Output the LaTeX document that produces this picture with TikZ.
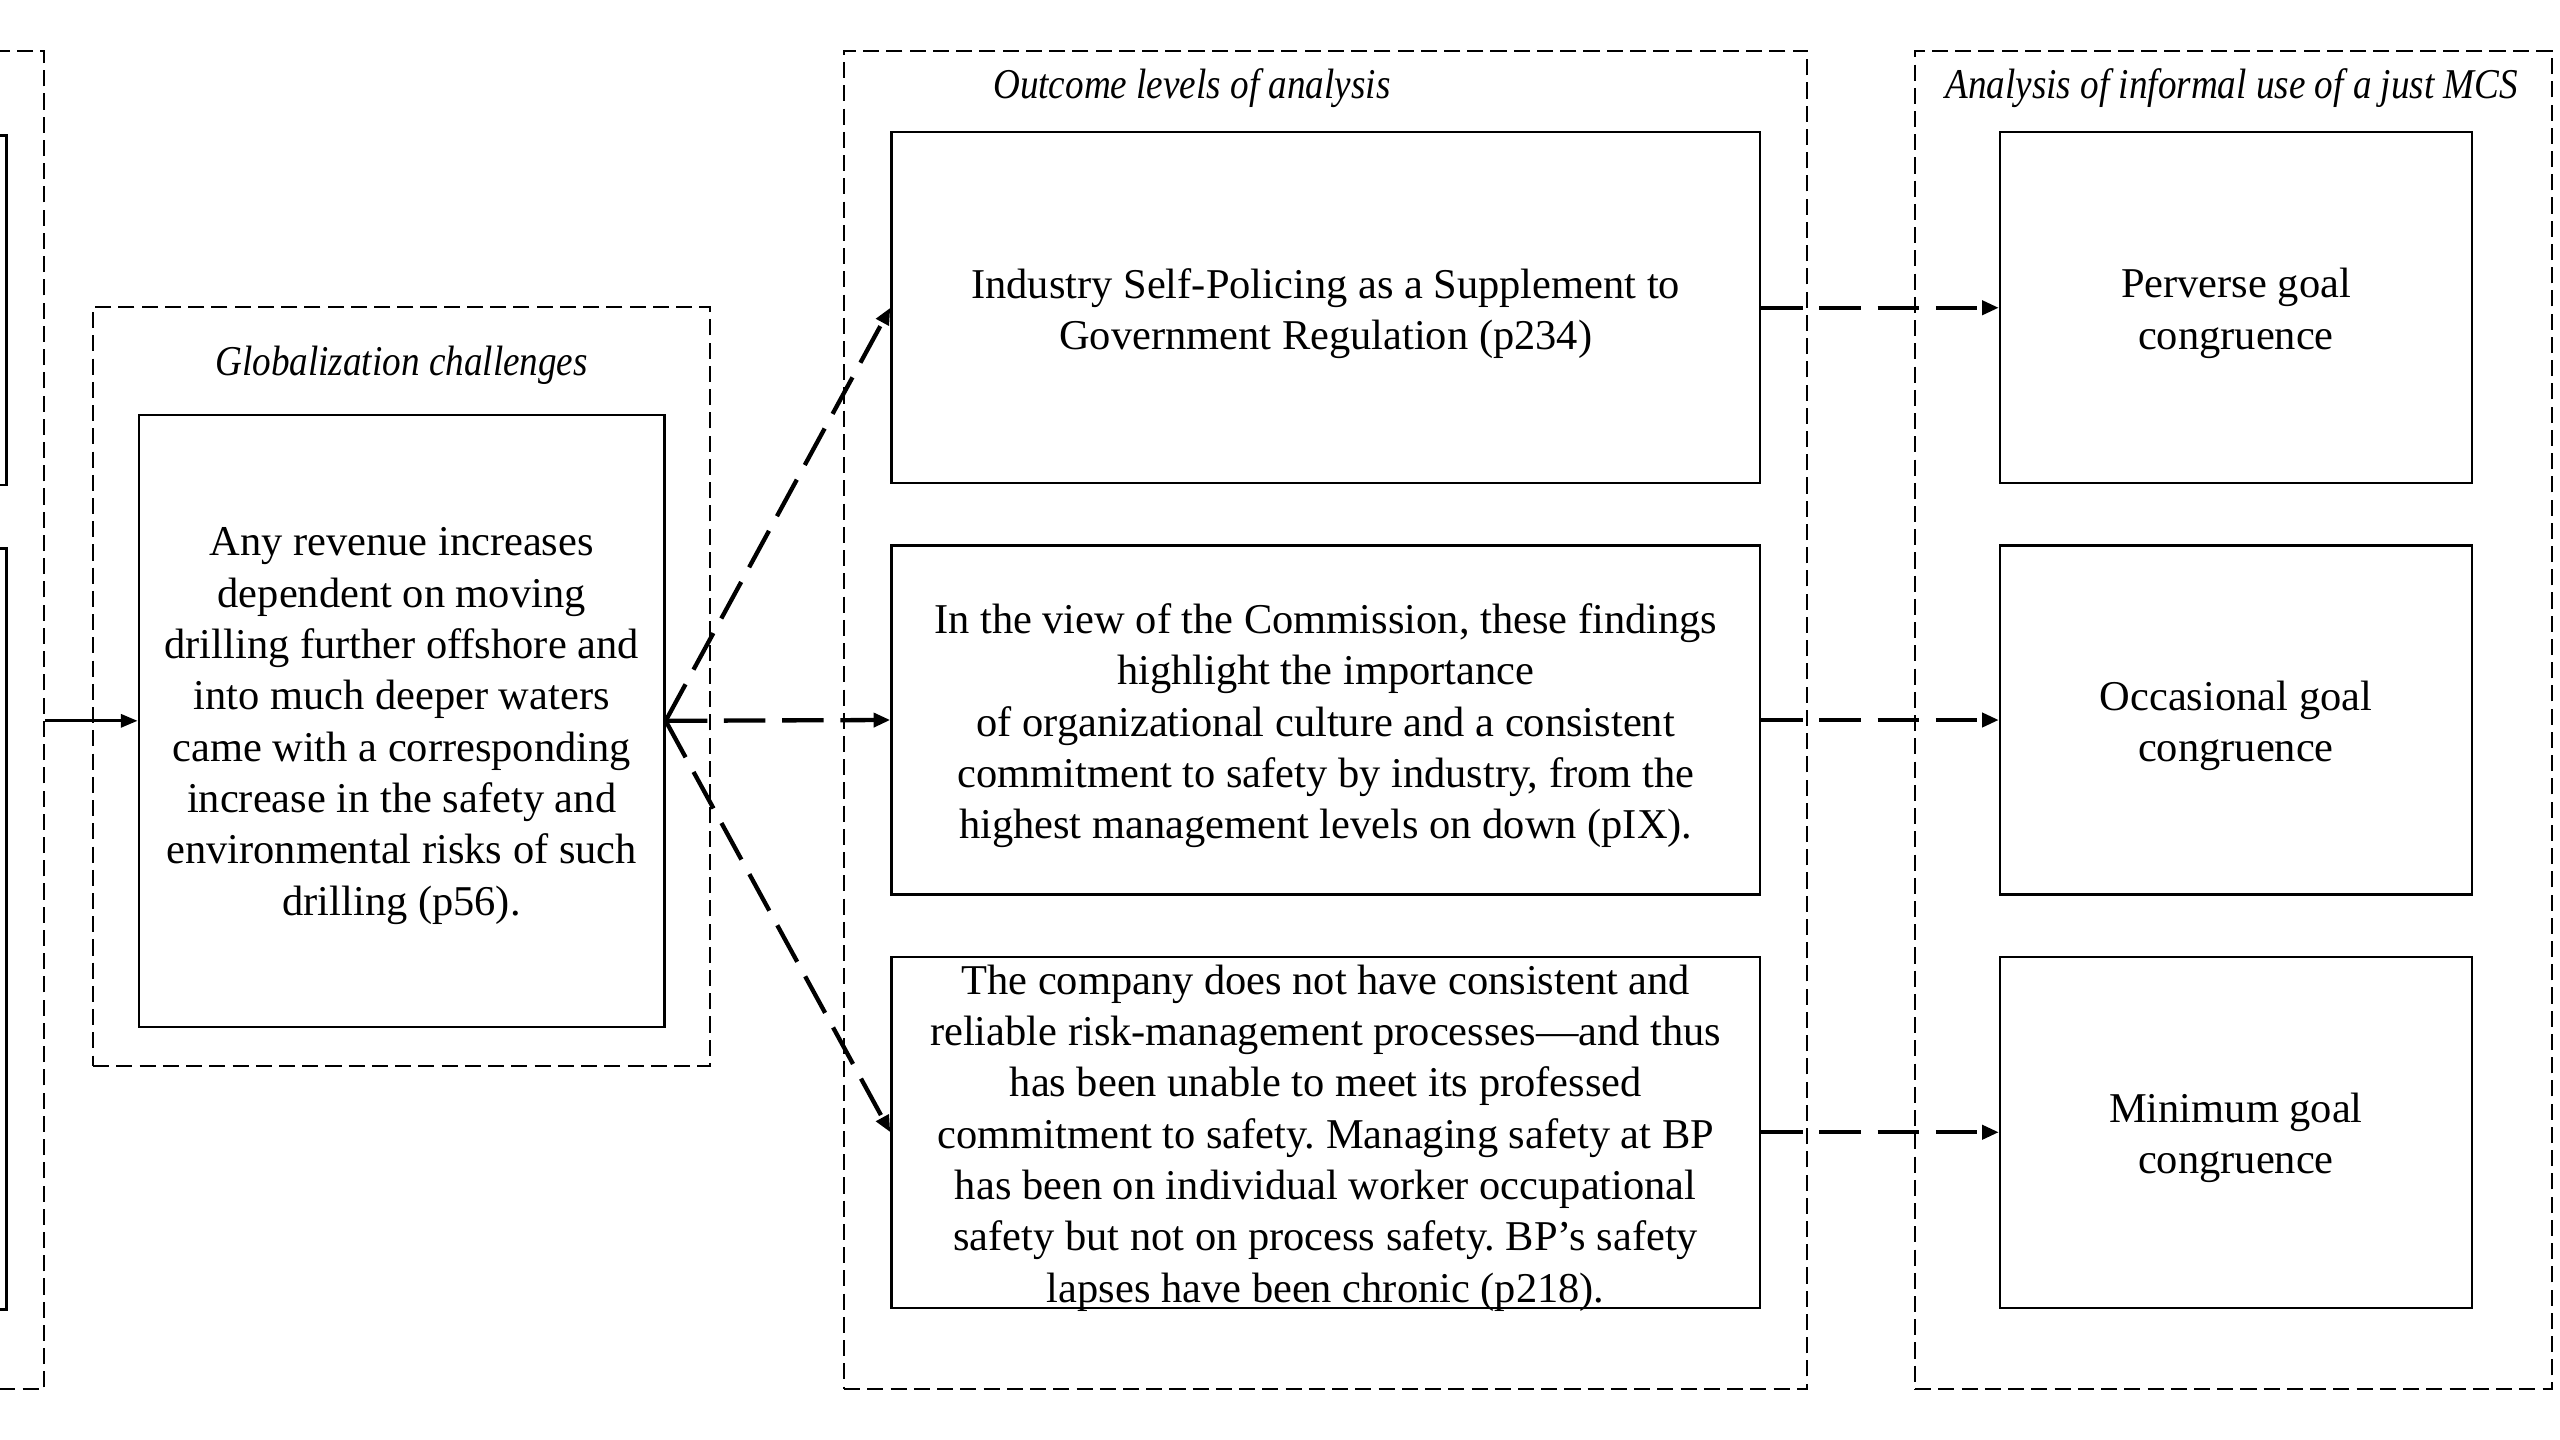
\documentclass[tikz,border=0pt]{standalone}
\usepackage{fontspec}
\setmainfont{Liberation Serif}
\newfontfamily\labfam[FakeStretch=0.875]{Liberation Serif}
\usetikzlibrary{arrows.meta}
\frenchspacing
\newcommand{\bodyfont}{\fontsize{14.8}{17.9}\selectfont}
\begin{document}
\begin{tikzpicture}[x=0.02cm,y=-0.02cm,
  box/.style={draw, line width=0.85pt, inner sep=0pt},
  txt/.style={inner sep=0pt, align=center, font=\bodyfont},
  grp/.style={draw, line width=0.85pt, dash pattern=on 5.6pt off 2.5pt, inner sep=0pt},
  lab/.style={inner sep=0pt, font=\labfam\itshape\fontsize{14.8}{17}\selectfont},
  conn/.style={line width=1.5pt, dash pattern=on 14.5pt off 5.8pt, -{Triangle[length=5.8pt,width=4.8pt]}},
  solidconn/.style={line width=1.1pt, -{Triangle[length=5.8pt,width=4.5pt]}}]
\useasboundingbox (0,0) rectangle (1568,882);
\clip (0,0) rectangle (1568,882);
% left partial group
\node[grp, minimum width=2.54cm, minimum height=16.4cm] (leftgrp) at (-36.5,441) {};
\node[box, minimum width=2.08cm, minimum height=4.28cm] (lefta) at (-48,190) {};
\node[box, minimum width=2.08cm, minimum height=9.32cm] (leftb) at (-48,569) {};
% globalization group
\node[grp, minimum width=7.56cm, minimum height=9.3cm] (globgrp) at (246,420.5) {};
\node[lab] (globlab) at (246,224) {Globalization challenges};
\node[box, minimum width=6.44cm, minimum height=7.5cm] (glob) at (246,441.5) {};
\node[txt] (globt) at ([yshift=-0.065cm]glob.center) {Any revenue increases\\ dependent on moving\\ drilling further offshore and\\ into much deeper waters\\ came with a corresponding\\ increase in the safety and\\ environmental risks of such\\ drilling (p56).};
% outcome group
\node[grp, minimum width=11.8cm, minimum height=16.4cm] (midgrp) at (812,441) {};
\node[lab] (midlab) at (730,54) {Outcome levels of analysis};
\node[box, minimum width=10.64cm, minimum height=4.3cm] (m1) at (812,188.5) {};
\node[txt] (m1t) at ([yshift=-0.07cm]m1.center) {Industry Self-Policing as a Supplement to\\ Government Regulation (p234)};
\node[box, minimum width=10.64cm, minimum height=4.28cm] (m2) at (812,441) {};
\node[txt] (m2t) at ([yshift=-0.07cm]m2.center) {In the view of the Commission, these findings\\ highlight the importance\\ of organizational culture and a consistent\\ commitment to safety by industry, from the\\ highest management levels on down (pIX).};
\node[box, minimum width=10.64cm, minimum height=4.3cm] (m3) at (812,693.5) {};
\node[txt] (m3t) at ([yshift=-0.07cm]m3.center) {The company does not have consistent and\\ reliable risk-management processes—and thus\\ has been unable to meet its professed\\ commitment to safety. Managing safety at BP\\ has been on individual worker occupational\\ safety but not on process safety. BP’s safety\\ lapses have been chronic (p218).};
% right group
\node[grp, minimum width=7.8cm, minimum height=16.4cm] (rgrp) at (1368,441) {};
\node[lab] (rlab) at (1367,54) {Analysis of informal use of a just MCS};
\node[box, minimum width=5.78cm, minimum height=4.3cm] (r1) at (1369.5,188.5) {};
\node[txt] (r1t) at ([yshift=-0.07cm]r1.center) {Perverse goal\\ congruence};
\node[box, minimum width=5.78cm, minimum height=4.28cm] (r2) at (1369.5,441) {};
\node[txt] (r2t) at ([yshift=-0.07cm]r2.center) {Occasional goal\\ congruence};
\node[box, minimum width=5.78cm, minimum height=4.3cm] (r3) at (1369.5,693.5) {};
\node[txt] (r3t) at ([yshift=-0.07cm]r3.center) {Minimum goal\\ congruence};
% connectors
\draw[solidconn] (leftgrp.east |- glob.west) -- (glob.west);
\draw[conn] (glob.east) -- (m1.west);
\draw[conn] (glob.east) -- (m2.west);
\draw[conn] (glob.east) -- (m3.west);
\draw[conn] (m1.east) -- (r1.west);
\draw[conn] (m2.east) -- (r2.west);
\draw[conn] (m3.east) -- (r3.west);
\end{tikzpicture}
\end{document}
